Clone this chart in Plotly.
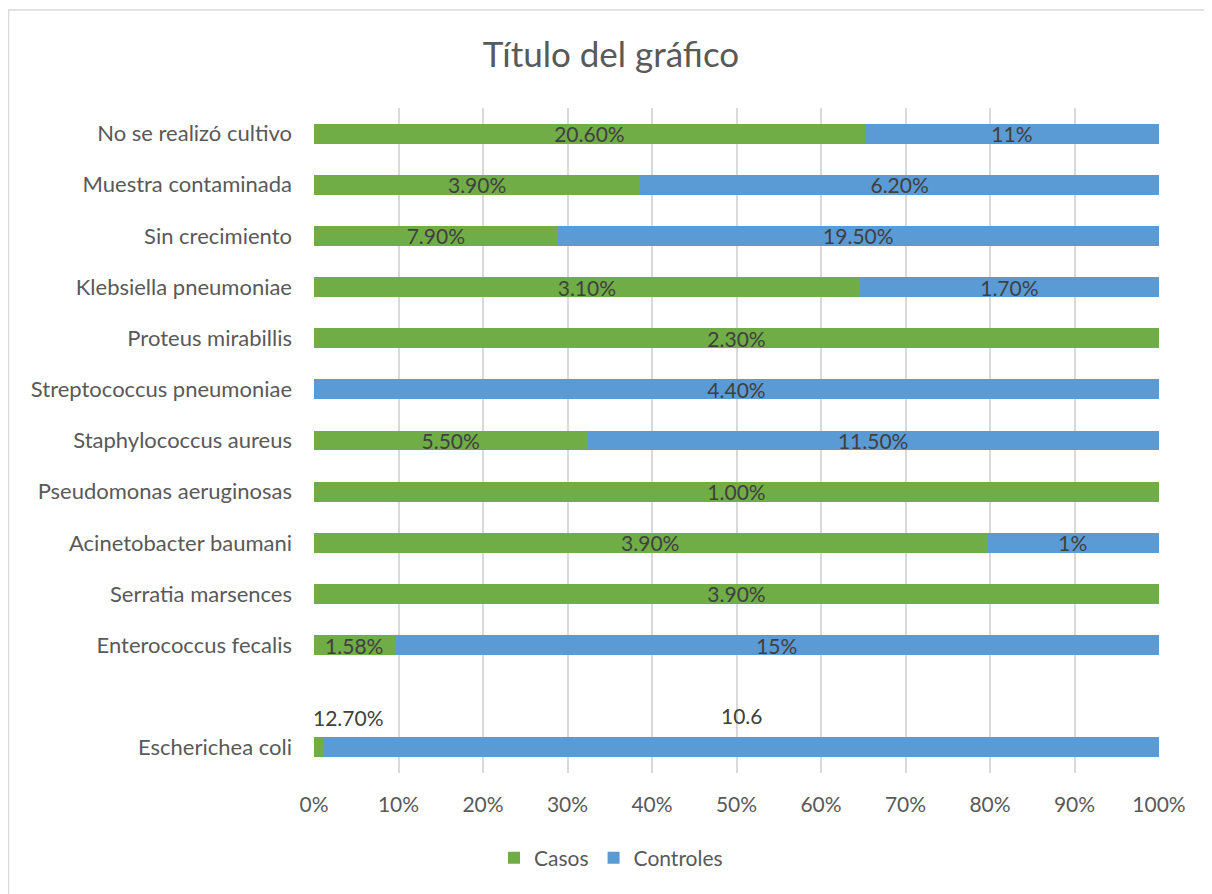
import plotly.graph_objects as go

categories = ["Escherichea coli", " ", "Enterococcus fecalis", "Serratia marsences",
              "Acinetobacter baumani", "Pseudomonas aeruginosas", "Staphylococcus aureus",
              "Streptococcus pneumoniae", "Proteus mirabillis", "Klebsiella pneumoniae",
              "Sin crecimiento", "Muestra contaminada", "No se realizó cultivo"]
casos = [0.127, None, 1.58, 3.9, 3.9, 1.0, 5.5, 0, 2.3, 3.1, 7.9, 3.9, 0.206]
controles = [10.6, None, 15, 0, 1, 0, 11.5, 4.4, 0, 1.7, 19.5, 6.2, 0.11]
casos_labels = ["", "", "1.58%", "3.90%", "3.90%", "1.00%", "5.50%", "", "2.30%",
                "3.10%", "7.90%", "3.90%", "20.60%"]
controles_labels = ["", "", "15%", "", "1%", "", "11.50%", "4.40%", "", "1.70%",
                    "19.50%", "6.20%", "11%"]
ecoli_labels = ["12.70%", "10.6"]
x_ticks = [0, 10, 20, 30, 40, 50, 60, 70, 80, 90, 100]

FONT = "Lato"
GREEN = "#70AD47"
BLUE = "#5B9BD5"
DL = dict(family=FONT, size=21, color="#404040")

fig = go.Figure()
fig.add_trace(go.Bar(y=categories, x=casos, name="Casos", orientation="h",
                     marker=dict(color=GREEN, line=dict(width=0)),
                     text=casos_labels, textposition="inside", insidetextanchor="middle",
                     textangle=0, constraintext="none", textfont=DL))
fig.add_trace(go.Bar(y=categories, x=controles, name="Controles", orientation="h",
                     marker=dict(color=BLUE, line=dict(width=0)),
                     text=controles_labels, textposition="inside", insidetextanchor="middle",
                     textangle=0, constraintext="none", textfont=DL))

# E. coli labels (moved above the bar, as in the original)
g = casos[0] / (casos[0] + controles[0]) * 100
fig.add_annotation(x=0, y=" ", text=ecoli_labels[0], showarrow=False, xanchor="left",
                   xshift=-3, yshift=-21, font=DL)
fig.add_annotation(x=(g + 100) / 2, y=" ", text=ecoli_labels[1], showarrow=False,
                   xanchor="center", yshift=-19, font=DL)

# chart border
fig.add_shape(type="rect", xref="paper", yref="paper",
              x0=(8.5 - 314) / 845, x1=(1230 - 314) / 845,
              y0=(773 - 920) / 665, y1=(773 - 10) / 665,
              line=dict(color="#D9D9D9", width=1.5), fillcolor="rgba(0,0,0,0)", layer="below")

fig.update_layout(
    barmode="stack", barnorm="percent", bargap=0.61,
    width=1212, height=894,
    margin=dict(l=306, r=61, t=100, b=129),
    paper_bgcolor="white", plot_bgcolor="white",
    font=dict(family=FONT, color="#595959"),
    title=dict(text="Título del gráfico", xref="container", x=603 / 1212, xanchor="center",
               yref="container", y=1 - 47 / 894, yanchor="middle",
               font=dict(family=FONT, size=35, color="#595959")),
    legend=dict(orientation="h", xref="container", x=603 / 1212, xanchor="center",
                yref="container", y=1 - 850 / 894, yanchor="middle",
                font=dict(family=FONT, size=21, color="#595959"),
                traceorder="normal", itemwidth=30),
    xaxis=dict(range=[0, 100], tickvals=x_ticks, ticktext=[f"{v}%" for v in x_ticks],
               showgrid=True, gridcolor="#D9D9D9", gridwidth=1.5, zeroline=False,
               showline=False, ticks="", ticklabelstandoff=17,
               tickfont=dict(family=FONT, size=21, color="#595959")),
    yaxis=dict(type="category", categoryorder="array", categoryarray=categories,
               range=[-0.5, 12.5], showgrid=False, zeroline=False, showline=False,
               ticks="", ticklabelstandoff=21,
               tickfont=dict(family=FONT, size=22, color="#595959")),
)

fig.write_html("out.html")
